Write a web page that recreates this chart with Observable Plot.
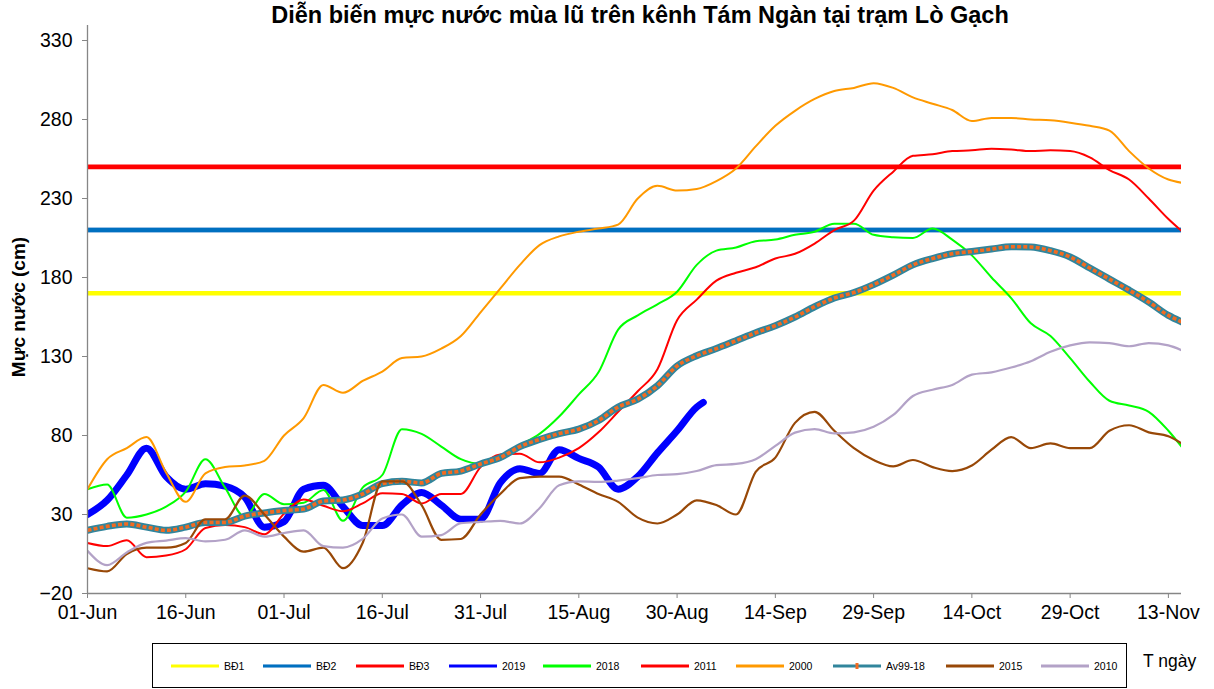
<!DOCTYPE html>
<html><head><meta charset="utf-8">
<script src="https://cdn.jsdelivr.net/npm/d3@7"></script>
<script src="https://cdn.jsdelivr.net/npm/@observablehq/plot@0.6"></script>
<style>
body{margin:0;background:#fff;font-family:"Liberation Sans",Arial,sans-serif;}
#wrap{position:relative;width:1214px;height:689px;overflow:hidden;background:#fff}
#chart{position:absolute;left:0;top:0}
#title{position:absolute;left:140px;width:1000px;top:4px;line-height:1;text-align:center;font-weight:bold;font-size:23.5px;color:#000;white-space:nowrap}
#ylabel{position:absolute;left:19px;top:307px;transform:translate(-50%,-50%) rotate(-90deg);font-weight:bold;font-size:19px;white-space:nowrap}
#legend{position:absolute;left:152px;top:643px;width:975px;height:45px;border:1px solid #000;box-sizing:border-box;font-size:10.5px}
#legend .item{position:absolute;top:0;height:43px;display:flex;align-items:center;white-space:nowrap}
#legend .item span{margin-left:5px}
#xlabel{position:absolute;left:1143px;top:651px;font-size:17.5px}
</style></head>
<body>
<div id="wrap">
  <div id="chart"></div>
  <div id="title">Diễn biến mực nước mùa lũ trên kênh Tám Ngàn tại trạm Lò Gạch</div>
  <div id="ylabel">Mực nước (cm)</div>
  <div id="legend"></div>
  <div id="xlabel">T ngày</div>
</div>
<script>
// ---- data ----
const startDay = "2019-06-01";
const tickDates = ["2019-06-01","2019-06-16","2019-07-01","2019-07-16","2019-07-31","2019-08-15","2019-08-30","2019-09-14","2019-09-29","2019-10-14","2019-10-29","2019-11-13"];
const endDay = "2019-11-15";
const yTicks = [-20,30,80,130,180,230,280,330];

// day offsets from 01-Jun
const days = [0,3,6,9,12,15,18,21,24,27,30,33,36,39,42,45,48,51,54,57,60,63,66,69,72,75,78,81,84,87,90,93,96,99,102,105,108,111,114,117,120,123,126,129,132,135,138,141,144,147,150,153,156,159,162,165,167];
const days2019 = [0,3,6,9,12,15,18,21,24,27,30,33,36,39,42,45,48,51,54,57,60,63,66,69,72,75,78,81,84,87,90,93,94];

// alert levels (Báo động)
const alertNames = ["BĐ1","BĐ2","BĐ3"];
const alertValues = [170,210,250];
const alertColors = ["#FFFF00","#0070C0","#FF0000"];

const v2019 = [30,39,55,72,54,46,49.5,48,41,22,25.5,46,48.5,35,23,23,36,44,36,27,27,50,59,56,71,65.5,60,46,54,69,83,98,101];
const v2018 = [46,49,28,30,35,44.5,65,47,28.5,43,36.5,37.5,45.5,26,47,55,84,81,73,65,62,67,74,81,92,106,120,147,156,163,171,188,197,199,203,204,207,209,214,214,207,205.5,205,211,204,194,180,167,151,143,129,114,102,99,95,83,73];
const v2011 = [12,10,13.7,3,4,8,21.5,23.3,22,17.5,30.5,39.5,35.5,32,37,43.5,43,37,43,43,60,68,68.5,63,66,72,82,95,108,122,153,166,178,183,186.5,192,195,201.5,210,216,235,247,257,258,260,260.5,261.5,261,260,260.5,260,256,248,242,230,217,209.5];
const v2000 = [46,65,72,79,56.5,38,56,60,61,64,80,91,112,107,114.5,120.5,129,130,135,143,158,173,188,200.5,206,209,211,213.5,230,238,235,236,241,249,263,276,285.5,293,298,300,303,300,294,290,286,279,281,281,280,279.5,278,276,273,260,249,242,240];
const vAvg = [20,22.5,24,22,20,22,25,25,29,31,32.5,33.5,38.5,39.2,43,49.5,51,50,56,57.5,62,66,73,77.5,81.2,84,89.5,98,103,111.5,124,130.5,135,140,145,149.5,155,161.5,167,170.5,175.5,181.5,188,192,195,196.5,198,199.5,199.3,197,193,186,179,172,164.5,156,152];
const v2015 = [-4,-6,5,9,9,12,27,27,42,30,16,6.5,9,-4,12,51,51,36,14,14.5,30,43,53,54,54,49,43,38,28,24.3,30,39,36,30,57,66,88,95,83,72,64.5,60.5,64.5,60,57.5,61,71,79,72,75,72,72,83,86.5,82,79.5,75];
const v2010 = [7,-2,6,12,13.5,15,13,14,20,16,18.3,20,10,9,14.5,27.5,30,16,17,24.5,25.3,26,24.3,34,48.5,51,50.6,51.5,53,55,55.5,57.5,61.2,62,65,73.4,81.8,84,81.3,82,85.5,93,105,109,112,118.5,120,123,127,133,137,139,138.5,136.5,138.5,137,134];

const seriesNames = ["2019","2018","2011","2000","Av99-18","2015","2010"];
const seriesColors = ["#0000FF","#00FF00","#FF0000","#FF9900","#31859C","#984807","#B3A2C7"];
const seriesWidths = [7,2,2,2,7,2.2,2.2];

// ---- build ----
const t0 = new Date(startDay + "T00:00:00Z");
const toDate = d => new Date(t0.getTime() + d * 864e5);
const seriesValues = [v2019, v2018, v2011, v2000, vAvg, v2015, v2010];
const seriesDays = [days2019, days, days, days, days, days, days];
const rows = [];
seriesNames.forEach((name, k) => {
  seriesValues[k].forEach((v, i) => rows.push({series: name, date: toDate(seriesDays[k][i]), value: v}));
});
const alerts = alertNames.map((n, i) => ({name: n, value: alertValues[i], color: alertColors[i]}));

const lineMarks = seriesNames.map((name, k) => {
  const data = rows.filter(r => r.series === name);
  const opts = {x: "date", y: "value", stroke: seriesColors[k], strokeWidth: seriesWidths[k], curve: "monotone-x", strokeLinecap: "round", strokeLinejoin: "round", clip: true};
  if (name === "Av99-18") {
    return [
      Plot.line(data, opts),
      Plot.line(data, {...opts, stroke: "#F26B21", strokeWidth: 3.6, strokeDasharray: "4 2.2", strokeLinecap: "butt"})
    ];
  }
  return Plot.line(data, opts);
});

const chart = Plot.plot({
  width: 1214,
  height: 689,
  marginLeft: 87,
  marginRight: 33,
  marginTop: 25,
  marginBottom: 96,
  style: {fontFamily: "'Liberation Sans', Arial, sans-serif", fontSize: "19.5px", background: "#fff", color: "#000"},
  x: {type: "utc", domain: [t0, new Date(endDay + "T00:00:00Z")]},
  y: {domain: [-20, 339.5]},
  marks: [
    Plot.ruleY(alerts.filter(a => a.name === "BĐ2"), {y: "value", stroke: "#9DC3E6", strokeWidth: 6}),
    Plot.ruleY(alerts, {y: "value", stroke: "color", strokeWidth: d => d.name === "BĐ2" ? 4 : 4.6}),
    ...lineMarks.flat(),
    Plot.ruleX([t0], {stroke: "#868686", strokeWidth: 1.3}),
    Plot.ruleY([-20], {stroke: "#868686", strokeWidth: 1.3}),
    Plot.axisY({ticks: yTicks, tickSize: 5, tickPadding: 10, label: null, stroke: "#868686", fill: "#000", fontSize: 19.5}),
    Plot.axisX({ticks: tickDates.map(s => new Date(s + "T00:00:00Z")), tickFormat: d3.utcFormat("%d-%b"), tickSize: 5, tickPadding: 7, label: null, stroke: "#868686", fill: "#000", fontSize: 19.5})
  ]
});
document.getElementById("chart").appendChild(chart);

// ---- legend ----
const legendNames = [...alertNames, ...seriesNames];
const legendColors = [...alertColors, ...seriesColors];
const legendLeft = [18, 110, 203, 296, 390, 488, 583, 680, 793, 888];
const legend = d3.select("#legend");
legendNames.forEach((n, i) => {
  const item = legend.append("div").attr("class", "item").style("left", legendLeft[i] + "px");
  const svg = item.append("svg").attr("width", 48).attr("height", 8);
  if (n === "BĐ2") svg.append("line").attr("x1", 0).attr("x2", 48).attr("y1", 4).attr("y2", 4).attr("stroke", "#9DC3E6").attr("stroke-width", 4);
  svg.append("line").attr("x1", 0).attr("x2", 48).attr("y1", 4).attr("y2", 4)
    .attr("stroke", legendColors[i]).attr("stroke-width", n === "BĐ2" ? 2.4 : 3);
  if (n === "Av99-18") svg.append("rect").attr("x", 22.5).attr("y", 1).attr("width", 3).attr("height", 6).attr("fill", "#F26B21");
  item.append("span").text(n);
});
</script>
</body></html>
